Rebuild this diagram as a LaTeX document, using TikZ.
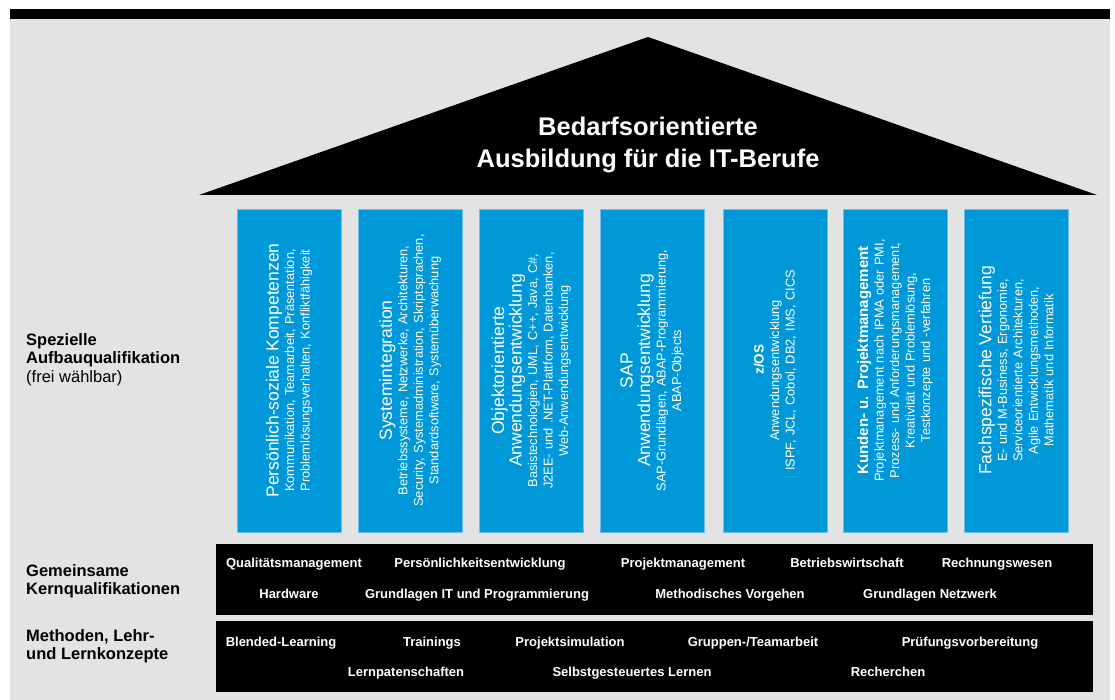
\documentclass[tikz,border=0pt]{standalone}
\usepackage{fontspec}
\setmainfont{Liberation Sans}
\definecolor{panelgray}{RGB}{227,227,227}
\definecolor{pillarblue}{RGB}{0,152,216}
\definecolor{pillaredge}{RGB}{110,190,230}
\newcommand\pilltitle[1]{{\fontsize{17.5}{17.5}\selectfont #1\par}}
\newcommand\pilltitleb[2][15]{{\fontsize{#1}{17}\selectfont\bfseries #2\par}}
\tikzset{
 pillar/.style={rotate=90, fill=pillarblue, draw=pillaredge, line width=0.6pt,
   minimum width=323pt, minimum height=104pt, inner sep=0pt, text width=316pt,
   align=center, text=white, font=\fontsize{12.8}{15.5}\selectfont},
 bar/.style={fill=black, minimum width=877pt, minimum height=71pt, inner sep=0pt},
 bartext/.style={anchor=base, text=white, inner sep=0pt,
   font=\fontsize{13}{15}\selectfont\bfseries},
 sidelabel/.style={anchor=north west, align=left, inner sep=0pt,
   font=\fontsize{16.5}{18.5}\selectfont},
 rooftext/.style={text=white, align=center, inner sep=0pt,
   font=\fontsize{25.5}{32}\selectfont\bfseries}
}
\begin{document}
\begin{tikzpicture}[x=1pt,y=-1pt]
\useasboundingbox (0,0) rectangle (1115,700);
\fill[white] (0,0) rectangle (1115,700);
\fill[panelgray] (10,19) rectangle (1110,700);
\fill[black] (10,9) rectangle (1110,19);
% roof
\fill[black] (199,195) -- (648,37) -- (1097,195) -- cycle;
\node[rooftext] (title) at (648,145) {Bedarfsorientierte\\Ausbildung für die IT-Berufe};
% pillars
\node[pillar] (p1) at (289,370.5) {\pilltitle{Persönlich-soziale Kompetenzen}Kommunikation, Teamarbeit, Präsentation,\\Problemlösungsverhalten, Konfliktfähigkeit};
\node[pillar] (p2) at (410,370.5) {\pilltitle{Systemintegration}Betriebssysteme, Netzwerke, Architekturen,\\Security, Systemadministration, Skriptsprachen,\\Standardsoftware, Systemüberwachung};
\node[pillar] (p3) at (531,370.5) {\pilltitle{Objektorientierte\\Anwendungsentwicklung}Basistechnologien, UML, C++, Java, C\#,\\J2EE- und .NET-Plattform, Datenbanken,\\Web-Anwendungsentwicklung};
\node[pillar] (p4) at (652,370.5) {\pilltitle{SAP\\Anwendungsentwicklung}SAP-Grundlagen, ABAP-Programmierung,\\ABAP-Objects};
\node[pillar] (p5) at (775,370.5) {\pilltitleb[13.5]{\hspace*{22pt}z/OS}Anwendungsentwicklung\\ISPF, JCL, Cobol, DB2, IMS, CICS};
\node[pillar] (p6) at (895,370.5) {\hspace*{20pt}\parbox{290pt}{\centering\pilltitleb{Kunden- u. Projektmanagement}Projektmanagement nach IPMA oder PMI,\\Prozess- und Anforderungsmanagement,\\Kreativität und Problemlösung,\\Testkonzepte und -verfahren}};
\node[pillar] (p7) at (1016,370.5) {\pilltitle{Fachspezifische Vertiefung}E- und M-Business, Ergonomie,\\Serviceorientierte Architekturen,\\Agile Entwicklungsmethoden,\\Mathematik und Informatik};
% bars
\node[bar] (kern) at (654.5,579.5) {};
\node[bar] (meth) at (654.5,656.5) {};
\node[bartext] (k1) at (294,567.5) {Qualitätsmanagement};
\node[bartext] (k2) at (480,567.5) {Persönlichkeitsentwicklung};
\node[bartext] (k3) at (683,567.5) {Projektmanagement};
\node[bartext] (k4) at (847,567.5) {Betriebswirtschaft};
\node[bartext] (k5) at (997,567.5) {Rechnungswesen};
\node[bartext] (k6) at (289,598.5) {Hardware};
\node[bartext] (k7) at (477,598.5) {Grundlagen IT und Programmierung};
\node[bartext] (k8) at (730,598.5) {Methodisches Vorgehen};
\node[bartext] (k9) at (930,598.5) {Grundlagen Netzwerk};
\node[bartext] (m1) at (281,646.5) {Blended-Learning};
\node[bartext] (m2) at (432,646.5) {Trainings};
\node[bartext] (m3) at (570,646.5) {Projektsimulation};
\node[bartext] (m4) at (753,646.5) {Gruppen-/Teamarbeit};
\node[bartext] (m5) at (970,646.5) {Prüfungsvorbereitung};
\node[bartext] (m6) at (406,676.5) {Lernpatenschaften};
\node[bartext] (m7) at (632,676.5) {Selbstgesteuertes Lernen};
\node[bartext] (m8) at (888,676.5) {Recherchen};
% side labels
\node[sidelabel] (l1) at (26,333) {\textbf{Spezielle}\\\textbf{Aufbauqualifikation}\\(frei wählbar)};
\node[sidelabel] (l2) at (26,564) {\textbf{Gemeinsame}\\\textbf{Kernqualifikationen}};
\node[sidelabel] (l3) at (26,629) {\textbf{Methoden, Lehr-}\\\textbf{und Lernkonzepte}};
\end{tikzpicture}
\end{document}
